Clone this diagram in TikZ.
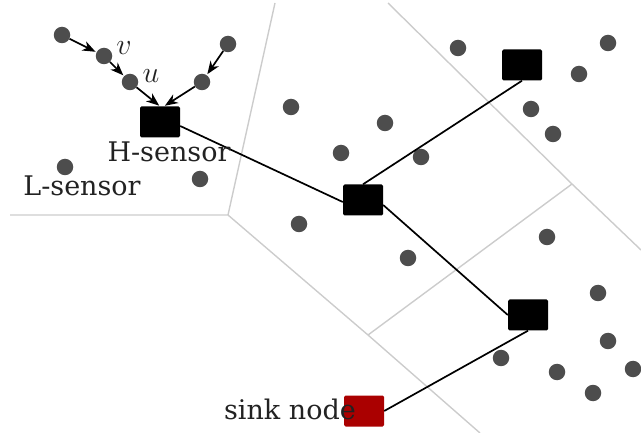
\RequirePackage{fix-cm}
\documentclass[tikz,border=0pt]{standalone}
\usepackage{fontspec}
\setmainfont{DejaVu Serif}
\usetikzlibrary{arrows.meta}
\definecolor{dotgray}{HTML}{4D4D4D}
\definecolor{sinkred}{HTML}{AA0000}
\definecolor{linegray}{HTML}{CCCCCC}
\definecolor{textdark}{HTML}{222222}
\begin{document}
\begin{tikzpicture}[x=1pt,y=-1pt,
  sensor/.style={circle,fill=dotgray,inner sep=0pt,minimum size=16.5pt},
  head/.style={rectangle,rounded corners=1.5pt,fill=black,inner sep=0pt,minimum width=40pt,minimum height=31pt},
  sinkbox/.style={head,fill=sinkred},
  vor/.style={draw=linegray,line width=1.4pt},
  link/.style={draw=black,line width=1.7pt},
  hop/.style={draw=black,line width=1.7pt,-{Stealth[length=13pt,width=10pt,inset=4pt]},shorten >=1pt},
  lab/.style={font=\fontsize{27}{32}\selectfont,text=textdark,inner sep=0pt,anchor=base},
  mlab/.style={font=\fontsize{30}{34}\selectfont,text=textdark,inner sep=0pt,anchor=base}]
\useasboundingbox (0,0) rectangle (641,433);
% Voronoi boundaries
\coordinate (v1) at (228,215);
\coordinate (v2) at (572,184);
\coordinate (v3) at (368,335);
\draw[vor] (10,215) -- (v1) -- (275,3);
\draw[vor] (v1) -- (v3) -- (480,433);
\draw[vor] (388,3) -- (v2) -- (641,250);
\draw[vor] (v2) -- (v3);
% sensors
\foreach \n/\x/\y in {a/62/35, b/104/56, c/130/82, d/228/44, e/202/82, f/65/167, g/200/179,
  h/291/107, i/385/123, j/341/153, k/421/157, l/458/48, m/608/43, n/579/74, o/531/109, p/553/134,
  q/299/224, r/408/258, s/547/237, t/598/293, w/608/341, x/501/358, y/557/372, z/633/369, zz/593/393}
  \node[sensor] (\n) at (\x,\y) {};
% cluster heads
\node[head] (H) at (160,122) {};
\node[head] (UR) at (522,65) {};
\node[head] (M) at (363,200) {};
\node[head] (LR) at (528,315) {};
\node[sinkbox] (S) at (364,411) {};
% links
\draw[link] ([yshift=-4pt]H.east) -- ([yshift=-2pt]M.west);
\draw[link] (M.north) -- (UR.south);
\draw[link] ([yshift=-5pt]M.east) -- (LR.west);
\draw[link] (LR.south) -- (S.east);
% hops
\draw[hop] (a) -- (b);
\draw[hop] (b) -- (c);
\draw[hop] (c) -- (H.north);
\draw[hop] (d) -- (e);
\draw[hop] (e) -- ([xshift=4pt]H.north);
% labels
\node[mlab] (vl) at (124,55) {$v$};
\node[mlab] (ul) at (151,83) {$u$};
\node[lab] (Hl) at (169,162) {H-sensor};
\node[lab] (Ll) at (82,196) {L-sensor};
\node[lab,anchor=base east] (Sl) at (356,420) {sink node};
\end{tikzpicture}
\end{document}
